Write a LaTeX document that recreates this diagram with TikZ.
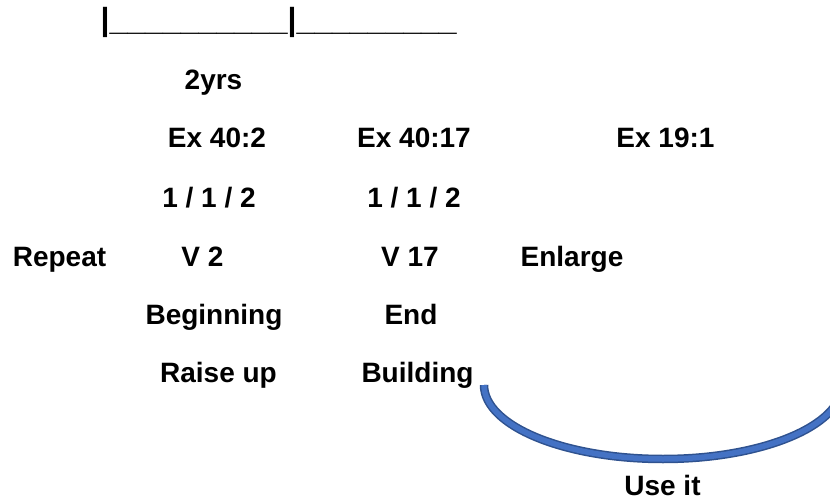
\documentclass[tikz,border=0pt]{standalone}
\usepackage{fontspec}
\setmainfont{Liberation Sans}
\begin{document}
\begin{tikzpicture}[x=1pt,y=-1pt,
  lbl/.style={anchor=base,inner sep=0pt,font=\fontsize{28}{30}\selectfont\bfseries},
  rule/.style={anchor=base west,inner sep=0pt,font=\fontsize{32}{34}\selectfont\bfseries},
  arcout/.style={draw=arcdark,line width=8.5pt},
  arcin/.style={draw=arcblue,line width=5.5pt}]
\definecolor{arcblue}{HTML}{4472C4}
\definecolor{arcdark}{HTML}{2F528F}
\useasboundingbox (0,0) rectangle (830,500);
\node[rule] (timeline) at (100.5,30.5) {|\_\_\_\_\_\_\_\_\_\_|\_\_\_\_\_\_\_\_\_};
\node[lbl] (yrs) at (213.5,90) {2yrs};
\node[lbl] (exa) at (217,148) {Ex 40:2};
\node[lbl] (exb) at (414,148) {Ex 40:17};
\node[lbl] (exc) at (665.5,147.5) {Ex 19:1};
\node[lbl] (fa) at (209,207.5) {1 / 1 / 2};
\node[lbl] (fb) at (414,207.5) {1 / 1 / 2};
\node[lbl] (repeat) at (59.5,266.5) {Repeat};
\node[lbl] (va) at (202.5,266.5) {V 2};
\node[lbl] (vb) at (410,266.5) {V 17};
\node[lbl] (enlarge) at (572,266.5) {Enlarge};
\node[lbl] (begin) at (214,324) {Beginning};
\node[lbl] (end) at (411,324) {End};
\node[lbl] (raise) at (218.5,382) {Raise up};
\node[lbl] (building) at (417.5,382) {Building};
\node[lbl] (useit) at (662.5,495.5) {Use it};
\coordinate (arcstart) at (484,385);
\begin{scope}
\clip (0,0) rectangle (830,500);
\draw[arcout] (arcstart) arc[start angle=180,end angle=0,x radius=179,y radius=74];
\draw[arcin] (arcstart) arc[start angle=180,end angle=0,x radius=179,y radius=74];
\end{scope}
\end{tikzpicture}
\end{document}
